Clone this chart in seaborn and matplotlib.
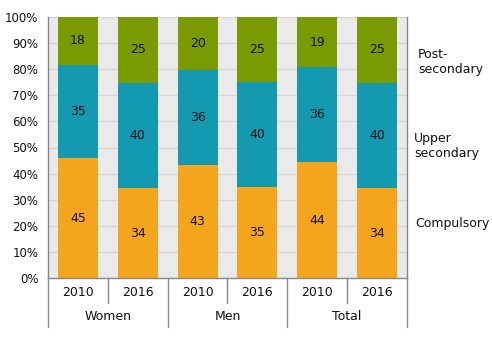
import matplotlib
matplotlib.use("Agg")
import matplotlib.pyplot as plt
import matplotlib.transforms as mtrans
import numpy as np
import pandas as pd
import seaborn as sns

groups = ["Women", "Women", "Men", "Men", "Total", "Total"]
years = ["2010", "2016", "2010", "2016", "2010", "2016"]
compulsory = [45, 34, 43, 35, 44, 34]
upper_secondary = [35, 40, 36, 40, 36, 40]
post_secondary = [18, 25, 20, 25, 19, 25]
series_names = ["Compulsory", "Upper\nsecondary", "Post-\nsecondary"]
colors = ["#F5A51C", "#139AB1", "#7A9A01"]

sns.set_theme(style="white")
plt.rcParams["font.family"] = ["DejaVu Sans"]

labels = [f"{g}\n{y}" for g, y in zip(groups, years)]
vals = np.array([compulsory, upper_secondary, post_secondary], dtype=float)
totals = vals.sum(axis=0)
shares = vals / totals * 100

fig = plt.figure(figsize=(4.92, 3.4), dpi=100)
ax = fig.add_axes([48/492, 1-278/340, (407-48)/492, (278-17)/340])
ax.set_facecolor("#EAEAEA")

bottom = np.zeros(len(labels))
for i in range(3):
    df = pd.DataFrame({"cat": labels, "val": shares[i]})
    sns.barplot(data=df, x="cat", y="val", order=labels, color=colors[i],
                bottom=bottom, width=0.67, ax=ax, saturation=1, edgecolor="none", linewidth=0)
    for j in range(len(labels)):
        ax.text(j, bottom[j] + shares[i][j] / 2, f"{int(vals[i][j])}", ha="center", va="center",
                fontsize=9, color="#111111")
    bottom = bottom + shares[i]

ax.set_xlim(-0.5, 5.5)
ax.set_ylim(0, 100)
ax.set_yticks(np.arange(0, 101, 10))
ax.set_yticklabels([f"{v}%" for v in range(0, 101, 10)], fontsize=8.5, color="#111111")
ax.yaxis.grid(True, color="#D6D6D6", linewidth=1)
ax.set_axisbelow(True)
ax.tick_params(axis="y", length=0, pad=7)
ax.set_xticks([])
ax.set_xlabel("")
ax.set_ylabel("")
for s in ["left", "bottom", "right"]:
    ax.spines[s].set_visible(True)
    ax.spines[s].set_color("#888888")
    ax.spines[s].set_linewidth(1)
ax.spines["top"].set_visible(False)

# category axis below
trans = mtrans.blended_transform_factory(ax.transData, ax.transAxes)
h = ax.get_position().height * 340  # axes height in px
def ay(px):
    return -px / h
for j in range(6):
    ax.text(j, ay(15), years[j], transform=trans, ha="center", va="center", fontsize=9, color="#111111")
for k, g in enumerate(["Women", "Men", "Total"]):
    ax.text(2*k + 0.5, ay(39), g, transform=trans, ha="center", va="center", fontsize=9, color="#111111")
for xb in [-0.5, 1.5, 3.5, 5.5]:
    ax.plot([xb, xb], [0, ay(49)], transform=trans, color="#888888", lw=1, clip_on=False)
for xb in [0.5, 2.5, 4.5]:
    ax.plot([xb, xb], [0, ay(25)], transform=trans, color="#888888", lw=1, clip_on=False)

# right-side legend labels
fig.text(418/492, 1-62/340, "Post-\nsecondary", ha="left", va="center", fontsize=9, linespacing=1.2, color="#111111")
fig.text(414/492, 1-146/340, "Upper\nsecondary", ha="left", va="center", fontsize=9, linespacing=1.2, color="#111111")
fig.text(415/492, 1-224/340, "Compulsory", ha="left", va="center", fontsize=9, color="#111111")

fig.savefig("out.png", dpi=100)
